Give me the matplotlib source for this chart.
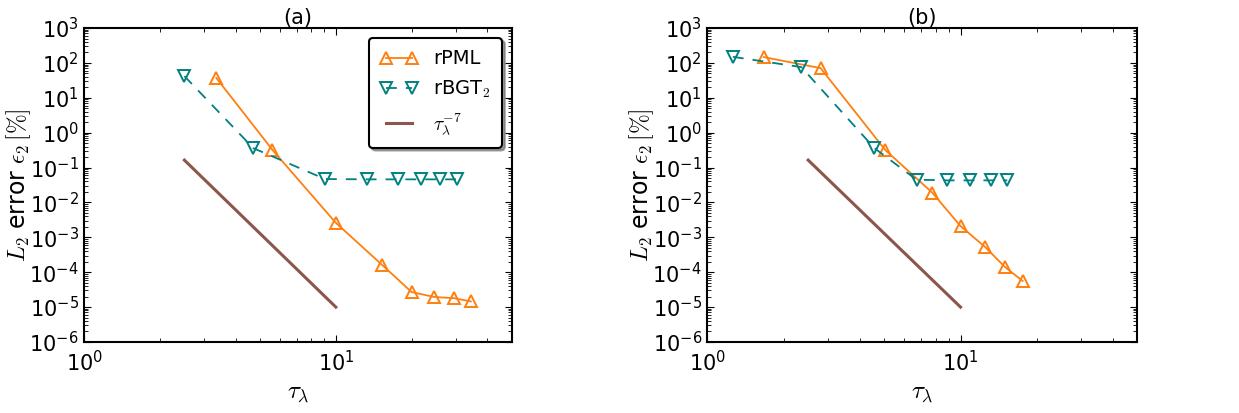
import matplotlib
matplotlib.use('Agg')
import matplotlib.pyplot as plt
import numpy as np

# panel (a)
tau_pml_a = [3.35, 5.6, 10.0, 15.3, 20.0, 24.6, 29.5, 34.4]
err_pml_a = [37, 0.32, 2.6e-3, 1.6e-4, 2.7e-5, 1.95e-5, 1.8e-5, 1.45e-5]
tau_bgt_a = [2.5, 4.7, 9.05, 13.3, 17.6, 21.8, 26.0, 30.3]
err_bgt_a = [42, 0.36, 0.047, 0.046, 0.046, 0.046, 0.046, 0.046]

# panel (b)
tau_pml_b = [1.67, 2.8, 5.04, 7.74, 10.0, 12.5, 15.0, 17.6]
err_pml_b = [147, 71, 0.32, 0.019, 2.1e-3, 5.3e-4, 1.4e-4, 5.6e-5]
tau_bgt_b = [1.26, 2.35, 4.57, 6.7, 8.87, 10.9, 13.2, 15.3]
err_bgt_b = [150, 76, 0.36, 0.045, 0.043, 0.043, 0.043, 0.043]

# reference slope tau^-7
tau_ref = [2.5, 10.0]
ref_coef = 100.0
ref_order = -7

titles = ['(a)', '(b)']

plt.rcParams['font.family'] = 'DejaVu Sans'
plt.rcParams['mathtext.fontset'] = 'cm'
plt.rcParams['axes.unicode_minus'] = False
plt.rcParams['xtick.direction'] = 'in'
plt.rcParams['ytick.direction'] = 'in'
plt.rcParams['xtick.top'] = True
plt.rcParams['ytick.right'] = True
plt.rcParams['xtick.major.size'] = 5
plt.rcParams['ytick.major.size'] = 5
plt.rcParams['xtick.minor.size'] = 3
plt.rcParams['ytick.minor.size'] = 3
plt.rcParams['xtick.major.pad'] = 6
plt.rcParams['ytick.major.pad'] = 4

fig = plt.figure(figsize=(12.39, 4.13), dpi=100)
ax_a = fig.add_axes([0.068, 0.172, 0.345, 0.76])
ax_b = fig.add_axes([0.571, 0.172, 0.347, 0.76])

data = [(ax_a, tau_pml_a, err_pml_a, tau_bgt_a, err_bgt_a),
        (ax_b, tau_pml_b, err_pml_b, tau_bgt_b, err_bgt_b)]

for i, (ax, tp, ep, tb, eb) in enumerate(data):
    ax.plot(tp, ep, '-', color='#ff7f0e', lw=1.3, marker='^', ms=9,
            mfc='none', mec='#ff7f0e', mew=1.4, label='rPML')
    ax.plot(tb, eb, '--', color='#008080', lw=1.3, marker='v', ms=9,
            mfc='none', mec='#008080', mew=1.4, label=r'rBGT$_2$', dashes=(6, 5))
    tr = np.array(tau_ref)
    ax.plot(tr, ref_coef * tr ** ref_order, '-', color='#8c564b', lw=2.2,
            label=r'$\tau_\lambda^{-7}$')
    ax.set_xscale('log')
    ax.set_yscale('log')
    ax.set_xlim(1, 50)
    ax.set_ylim(1e-6, 1e3)
    ax.set_yticks([10.0 ** k for k in range(-6, 4)])
    ax.yaxis.set_minor_locator(matplotlib.ticker.LogLocator(base=10, subs=np.arange(2, 10), numticks=100))
    ax.yaxis.set_minor_formatter(matplotlib.ticker.NullFormatter())
    ax.tick_params(labelsize=15)
    for s in ax.spines.values():
        s.set_linewidth(1.5)
    ax.set_title(titles[i], fontsize=15, pad=3)
    ax.set_xlabel(r'$\tau_\lambda$', fontsize=18, labelpad=4)
    ax.set_ylabel(r'$L_2$ error $\epsilon_2\,[\%]$', fontsize=17)
    ax.yaxis.set_label_coords(-0.12, 0.5)

leg = ax_a.legend(loc='upper right', numpoints=2, fontsize=14, fancybox=True,
                  shadow=True, framealpha=1, edgecolor='black',
                  handlelength=1.9, labelspacing=0.55, borderpad=0.6,
                  borderaxespad=0.5)
leg.get_frame().set_linewidth(1.5)

plt.savefig('out.png', dpi=100)
